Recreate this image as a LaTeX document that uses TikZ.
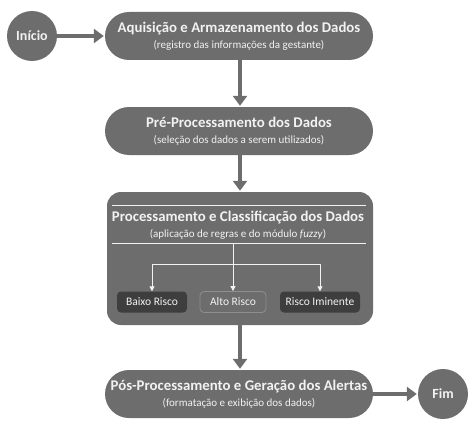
\documentclass[tikz,border=0pt]{standalone}
\usepackage{fontspec}
\setmainfont{Carlito}
\usepackage{tikz}
\usetikzlibrary{arrows.meta}
\definecolor{boxgray}{HTML}{6D6D6D}
\definecolor{darkbox}{HTML}{3E3E3E}
\definecolor{lightline}{HTML}{8E8E8E}
\definecolor{txtwhite}{HTML}{F2F2F2}
\newcommand{\subtxt}[1]{{\normalfont\fontsize{11}{16}\selectfont #1}}
\tikzset{
  every picture/.style={line join=round, >=Stealth},
  endpt/.style={circle, fill=boxgray, text=txtwhite, minimum size=50pt, inner sep=0pt, font=\fontsize{14}{16}\selectfont\bfseries},
  stage/.style={rectangle, rounded corners=24pt, fill=boxgray, text=txtwhite, minimum width=268pt, minimum height=48pt, align=center, inner sep=0pt, font=\fontsize{14.8}{16}\selectfont\bfseries},
  flow/.style={draw=boxgray, line width=4.5pt, -{Triangle[length=10pt,width=14pt]}, shorten >=1pt},
  inner/.style={draw=txtwhite, line width=0.9pt, -{Triangle[length=5pt,width=5pt]}},
  risk/.style={rectangle, rounded corners=4pt, minimum height=21pt, text=txtwhite, inner sep=0pt, font=\fontsize{11.5}{13}\selectfont},
}

\begin{document}
\begin{tikzpicture}[x=1pt,y=-1pt]
\useasboundingbox (0,0) rectangle (468,420);
% inicio e fim
\node[endpt] (inicio) at (32,36) {Início};
\node[endpt] (fim) at (443,394) {Fim};
% etapas
\node[stage] (aquis) at (239,36) {Aquisição e Armazenamento dos Dados\\ \subtxt{(registro das informações da gestante)}};
\node[stage] (prep) at (239,131) {Pré-Processamento dos Dados\\ \subtxt{(seleção dos dados a serem utilizados)}};
\node[stage, rounded corners=14pt, minimum width=266pt, minimum height=133pt] (proc) at (240,258.5) {};
\node[stage] (posp) at (239,394) {Pós-Processamento e Geração dos Alertas\\ \subtxt{(formatação e exibição dos dados)}};
% conteudo do processamento
\draw[txtwhite, line width=0.9pt] (112,205) -- (366,205);
\node[text=txtwhite, align=center, font=\fontsize{14.8}{16}\selectfont\bfseries] (proctit) at (238,225) {Processamento e Classificação dos Dados\\ \subtxt{(aplicação de regras e do módulo \textit{fuzzy})}};
\draw[txtwhite, line width=0.9pt] (112,243) -- (366,243);
\coordinate (hub) at (233,243);
\coordinate (fork) at (233,264);
\node[risk, fill=darkbox, minimum width=70pt] (baixo) at (152,302) {Baixo Risco};
\node[risk, fill=boxgray, draw=lightline, line width=0.8pt, minimum width=66pt] (alto) at (233,302) {Alto Risco};
\node[risk, fill=darkbox, minimum width=80pt] (iminente) at (320,302) {Risco Iminente};
\draw[inner] (hub) -- (alto);
\draw[inner] (fork) -| (baixo);
\draw[inner] (fork) -| (iminente);
% fluxo principal
\draw[flow] (inicio) -- (aquis);
\draw[flow] (aquis.south -| proc) -- (prep.north -| proc);
\draw[flow] (prep.south -| proc) -- (proc.north);
\draw[flow] (proc.south) -- (posp.north -| proc);
\draw[flow] (posp) -- (fim);
\end{tikzpicture}
\end{document}
